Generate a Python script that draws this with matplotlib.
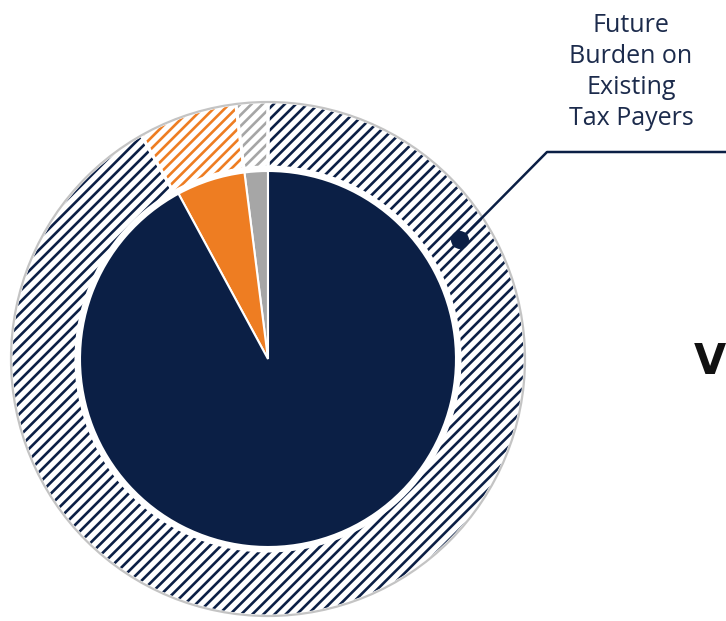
import matplotlib
matplotlib.use("Agg")
import matplotlib.pyplot as plt
from matplotlib.patches import Circle

# Shares, ordered counter-clockwise from 12 o'clock
categories = ["Other", "Other Sources", "Future Burden on Existing Tax Payers"]
outer_values = [2.0, 6.2, 91.8]   # hatched ring
inner_values = [2.0, 5.9, 92.1]   # solid pie
colors = ["#a6a6a6", "#ee7d22", "#0b1f45"]
callout_text = "Future\nBurden on\nExisting\nTax Payers"

W, H = 726, 621
plt.rcParams["hatch.linewidth"] = 1.9

fig = plt.figure(figsize=(W / 100, H / 100), dpi=100)
ax = fig.add_axes([0, 0, 1, 1])

cx, cy = 268, H - 359
r_outer, r_ring_in, r_inner = 257, 192, 188

# Hatched outer ring
ring, _ = ax.pie(outer_values, radius=r_outer, center=(cx, cy), startangle=90,
                 counterclock=True,
                 wedgeprops=dict(width=r_outer - r_ring_in, facecolor="white",
                                 linewidth=0))
for w, c in zip(ring, colors):
    w.set_edgecolor(c)
    w.set_hatch("///")
    w.set_linewidth(0)

# White separators between ring segments
ax.pie(outer_values, radius=r_outer, center=(cx, cy), startangle=90,
       counterclock=True,
       wedgeprops=dict(width=r_outer - r_ring_in, facecolor="none",
                       edgecolor="white", linewidth=2.2))

# Solid inner pie
ax.pie(inner_values, radius=r_inner, center=(cx, cy), startangle=90,
       counterclock=True, colors=colors,
       wedgeprops=dict(edgecolor="white", linewidth=1.5))

# Light outline around the ring
ax.add_patch(Circle((cx, cy), r_outer, facecolor="none", edgecolor="#c4c4c4",
                    linewidth=1.6, zorder=5))

# Callout for the navy segment
navy = "#0b1f45"
ax.plot([460, 547, W + 5], [H - 240, H - 152, H - 152], color=navy,
        linewidth=1.8, solid_capstyle="butt", zorder=6, clip_on=False)
ax.add_patch(Circle((460, H - 240), 9, facecolor=navy, edgecolor="none",
                    zorder=7))
ax.text(631, H - 72, callout_text, ha="center", va="center", fontsize=18,
        family="Open Sans", color="#1c2b4c", linespacing=1.3, zorder=7)

ax.text(694, H - 362, "V", ha="left", va="center", fontsize=30,
        fontweight="bold", family="DejaVu Sans", color="#111111")

ax.set_xlim(0, W)
ax.set_ylim(0, H)
ax.set_aspect("equal")
ax.axis("off")

fig.savefig("out.png", dpi=100, facecolor="white")
